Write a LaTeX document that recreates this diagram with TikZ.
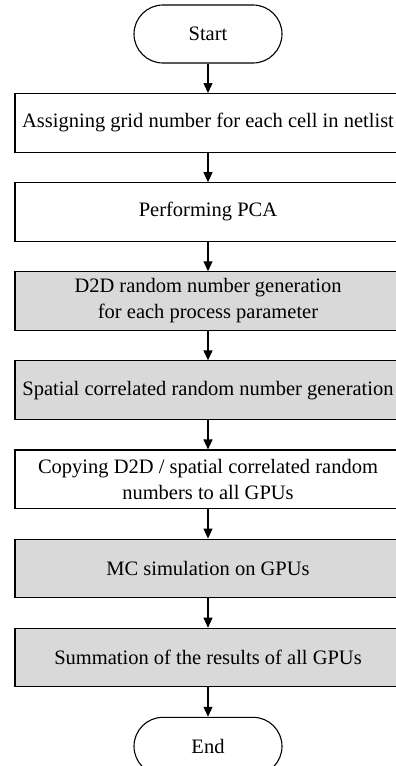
\documentclass[tikz,border=0pt]{standalone}
\usepackage{fontspec}
\setmainfont{Liberation Serif}
\usetikzlibrary{arrows.meta, positioning}

\begin{document}
\begin{tikzpicture}[>={Triangle[length=10pt,width=9pt]}, node distance=29.5pt, x=1pt, y=1pt,
  every node/.style={font=\fontsize{20.5}{26}\selectfont, inner sep=1pt},
  term/.style={draw, line width=1.1pt, rounded corners=29pt, minimum width=148pt, minimum height=58pt},
  proc/.style={draw, line width=1.1pt, minimum width=386pt, minimum height=58.5pt, align=center},
  shaded/.style={proc, fill=black!15}]
  \useasboundingbox (0,0) rectangle (396,-766);

  \node[term] (start) at (208,-34) {Start};
  \node[proc, below=of start] (grid) {Assigning grid number for each cell in netlist};
  \node[proc, below=of grid] (pca) {Performing PCA};
  \node[shaded, below=of pca] (dtod) {D2D random number generation\\for each process parameter};
  \node[shaded, below=of dtod] (spatial) {Spatial correlated random number generation};
  \node[proc, below=of spatial] (copy) {Copying D2D / spatial correlated random\\numbers to all GPUs};
  \node[shaded, below=of copy] (mc) {MC simulation on GPUs};
  \node[shaded, below=of mc] (sum) {Summation of the results of all GPUs};
  \node[term, below=of sum] (end) {End};

  \draw[->, line width=1.1pt] (start) -- (grid);
  \draw[->, line width=1.1pt] (grid) -- (pca);
  \draw[->, line width=1.1pt] (pca) -- (dtod);
  \draw[->, line width=1.1pt] (dtod) -- (spatial);
  \draw[->, line width=1.1pt] (spatial) -- (copy);
  \draw[->, line width=1.1pt] (copy) -- (mc);
  \draw[->, line width=1.1pt] (mc) -- (sum);
  \draw[->, line width=1.1pt] (sum) -- (end);
\end{tikzpicture}
\end{document}
